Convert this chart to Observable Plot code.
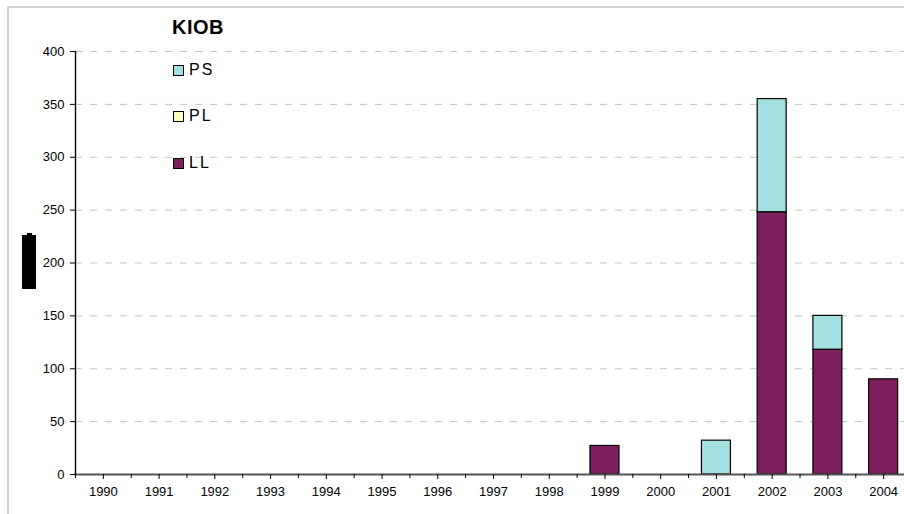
<!DOCTYPE html>
<html>
<head>
<meta charset="utf-8">
<script src="https://cdn.jsdelivr.net/npm/d3@7"></script>
<script src="https://cdn.jsdelivr.net/npm/@observablehq/plot@0.6"></script>
<style>
  html, body { margin: 0; padding: 0; background: #fff; }
  #wrap { position: relative; width: 904px; height: 514px; overflow: hidden; font-family: "Liberation Sans", Arial, sans-serif; }
  #border { position: absolute; left: 7px; top: 6px; width: 1000px; height: 1000px; border-left: 2px solid #d4d4d4; border-top: 2px solid #d4d4d4; }
  #chart { position: absolute; left: 0; top: 0; }
  #title { position: absolute; left: 172px; top: 16px; font-weight: bold; font-size: 20px; letter-spacing: 0.5px; color: #000; }
  .leg { position: absolute; left: 173px; font-size: 16px; letter-spacing: 2px; color: #000; line-height: 16px; }
  .leg span { display: inline-block; width: 9px; height: 9px; border: 1px solid #000; margin-right: 5px; vertical-align: -1px; }
  #ylab { position: absolute; left: 22px; top: 235px; width: 14px; height: 54px; background: #000; }
  #ylab2 { position: absolute; left: 27px; top: 233px; width: 5px; height: 2px; background: #000; }
</style>
</head>
<body>
<div id="wrap">
  <div id="border"></div>
  <div id="chart"></div>
  <div id="ylab"></div><div id="ylab2"></div>
  <div id="title">KIOB</div>
  <div id="legend"></div>
</div>
<script>
const years = ["1990","1991","1992","1993","1994","1995","1996","1997","1998","1999","2000","2001","2002","2003","2004"];
const seriesNames = ["PS", "PL", "LL"];
const colors = ["#a3e0e0", "#ffffc4", "#7e1f5d"];
const LL = [0,0,0,0,0,0,0,0,0,27,0,0,248,118,90];
const PL = [0,0,0,0,0,0,0,0,0,0,0,0,0,0,0];
const PS = [0,0,0,0,0,0,0,0,0,0,0,32,107,32,0];
const yTicks = [0,50,100,150,200,250,300,350,400];

const values = {PS, PL, LL};
const rows = [];
for (const s of ["LL","PL","PS"]) {
  years.forEach((y, i) => { if (values[s][i] > 0) rows.push({year: y, series: s, value: values[s][i]}); });
}

const xRange = [75, 911];
const step = (xRange[1] - xRange[0]) / years.length;

const plot = Plot.plot({
  width: 904,
  height: 514,
  marginLeft: 75,
  marginRight: 0,
  marginTop: 51,
  marginBottom: 40,
  style: {fontFamily: '"Liberation Sans", Arial, sans-serif', fontSize: "13px", color: "#000", background: "transparent", overflow: "visible"},
  x: {domain: years, range: xRange, paddingInner: 0.48, paddingOuter: 0.24, round: false, label: null},
  y: {domain: [0, 400], label: null},
  color: {domain: seriesNames, range: colors},
  marks: [
    Plot.ruleY(yTicks.filter(d => d > 0), {stroke: "#c4c4c4", strokeDasharray: "7,8", strokeWidth: 1}),
    Plot.barY(rows, Plot.stackY({x: "year", y: "value", fill: "series", order: ["LL","PL","PS"], stroke: "#000", strokeWidth: 1.2})),
    Plot.frame({anchor: "bottom", stroke: "#555", strokeWidth: 1.8}),
    Plot.frame({anchor: "left", stroke: "#000", strokeWidth: 1.4}),
    Plot.axisY({ticks: yTicks, tickSize: 5, tickPadding: 6, tickFormat: d => String(d), stroke: "#000"}),
    Plot.axisX({tickSize: 4, tickFormat: () => "", dx: -step / 2, stroke: "#000"}),
    Plot.axisX({tickSize: 5, tickPadding: 7, tickFormat: d => d})
  ]
});
document.getElementById("chart").appendChild(plot);

const legend = document.getElementById("legend");
const tops = [62, 108, 155];
seriesNames.forEach((s, i) => {
  const d = document.createElement("div");
  d.className = "leg";
  d.style.top = tops[i] + "px";
  d.innerHTML = `<span style="background:${colors[i]}"></span>${s}`;
  legend.appendChild(d);
});
</script>
</body>
</html>
